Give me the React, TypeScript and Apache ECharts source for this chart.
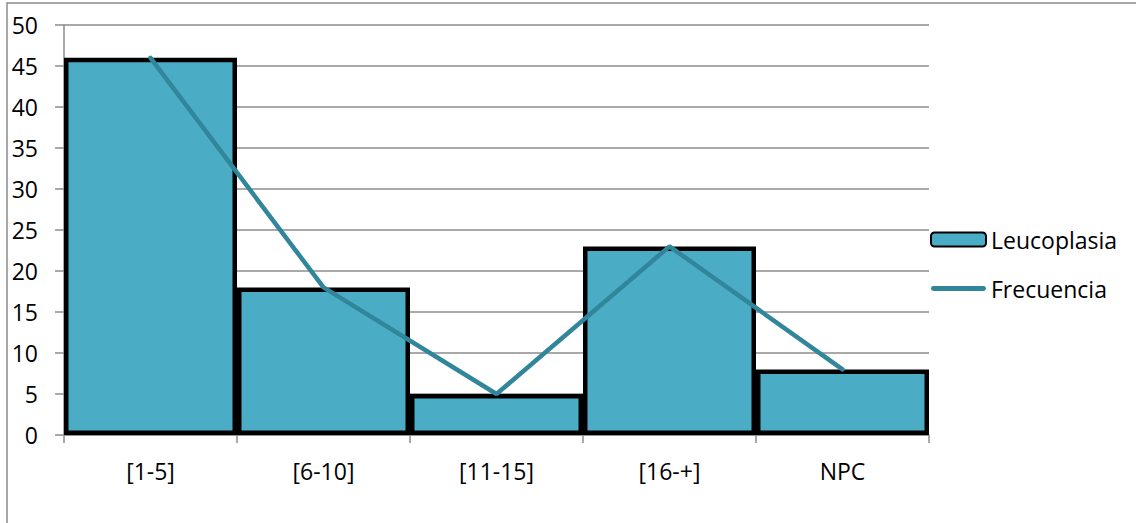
import React, { useEffect, useRef } from "react";
import * as echarts from "echarts";

const categories = ["[1-5]", "[6-10]", "[11-15]", "[16-+]", "NPC"];
const leucoplasia = [46, 18, 5, 23, 8];
const frecuencia = [46, 18, 5, 23, 8];
const yMin = 0;
const yMax = 50;
const yStep = 5;

export default function App() {
  const ref = useRef<HTMLDivElement>(null);
  useEffect(() => {
    if (!ref.current) return;
    const chart = echarts.init(ref.current, null, { renderer: "svg" });
    const font = "'Open Sans', 'Noto Sans', sans-serif";
    chart.setOption({
      animation: false,
      backgroundColor: "#ffffff",
      textStyle: { fontFamily: font },
      graphic: [
        {
          type: "rect",
          shape: { x: 7, y: 3, width: 1140, height: 540 },
          style: { fill: "none", stroke: "#8c8c8c", lineWidth: 1.5 },
          silent: true,
        },
      ],
      grid: { left: 64, right: 207, top: 25, bottom: 88 },
      legend: {
        orient: "vertical",
        left: 930,
        top: 228,
        padding: 0,
        itemWidth: 55,
        itemHeight: 14,
        itemGap: 26,
        textStyle: { fontSize: 23, lineHeight: 22, color: "#000", fontFamily: font },
        data: [
          { name: "Leucoplasia" },
          {
            name: "Frecuencia",
            icon: "path://M2,0 L53,0 A2.5,2.5 0 0 1 53,5 L2,5 A2.5,2.5 0 0 1 2,0 Z",
          },
        ],
      },
      xAxis: {
        type: "category",
        data: categories,
        axisLine: { lineStyle: { color: "#8c8c8c", width: 1.5 } },
        axisTick: { show: true, length: 8, lineStyle: { color: "#8c8c8c", width: 1.5 } },
        axisLabel: { fontSize: 23, color: "#000", margin: 24, fontFamily: font },
        splitLine: { show: false },
      },
      yAxis: {
        type: "value",
        min: yMin,
        max: yMax,
        interval: yStep,
        axisLine: { show: true, lineStyle: { color: "#8c8c8c", width: 1.5 } },
        axisTick: { show: true, length: 9, inside: false, lineStyle: { color: "#8c8c8c", width: 1.5 } },
        axisLabel: { fontSize: 23, color: "#000", margin: 26, fontFamily: font },
        splitLine: { show: true, lineStyle: { color: "#8c8c8c", width: 1.5 } },
      },
      series: [
        {
          name: "Leucoplasia",
          type: "bar",
          data: leucoplasia,
          barCategoryGap: "0%",
          itemStyle: { color: "#4BACC6", borderColor: "#000", borderWidth: 4.5 },
          z: 2,
        },
        {
          name: "Frecuencia",
          type: "line",
          data: frecuencia,
          symbol: "none",
          lineStyle: { color: "#31869B", width: 4.5, cap: "round" },
          itemStyle: { color: "#31869B" },
          z: 3,
        },
      ],
    });
    return () => chart.dispose();
  }, []);
  return (
    <div
      ref={ref}
      style={{ position: "absolute", left: 0, top: 0, width: 1136, height: 523 }}
    />
  );
}
